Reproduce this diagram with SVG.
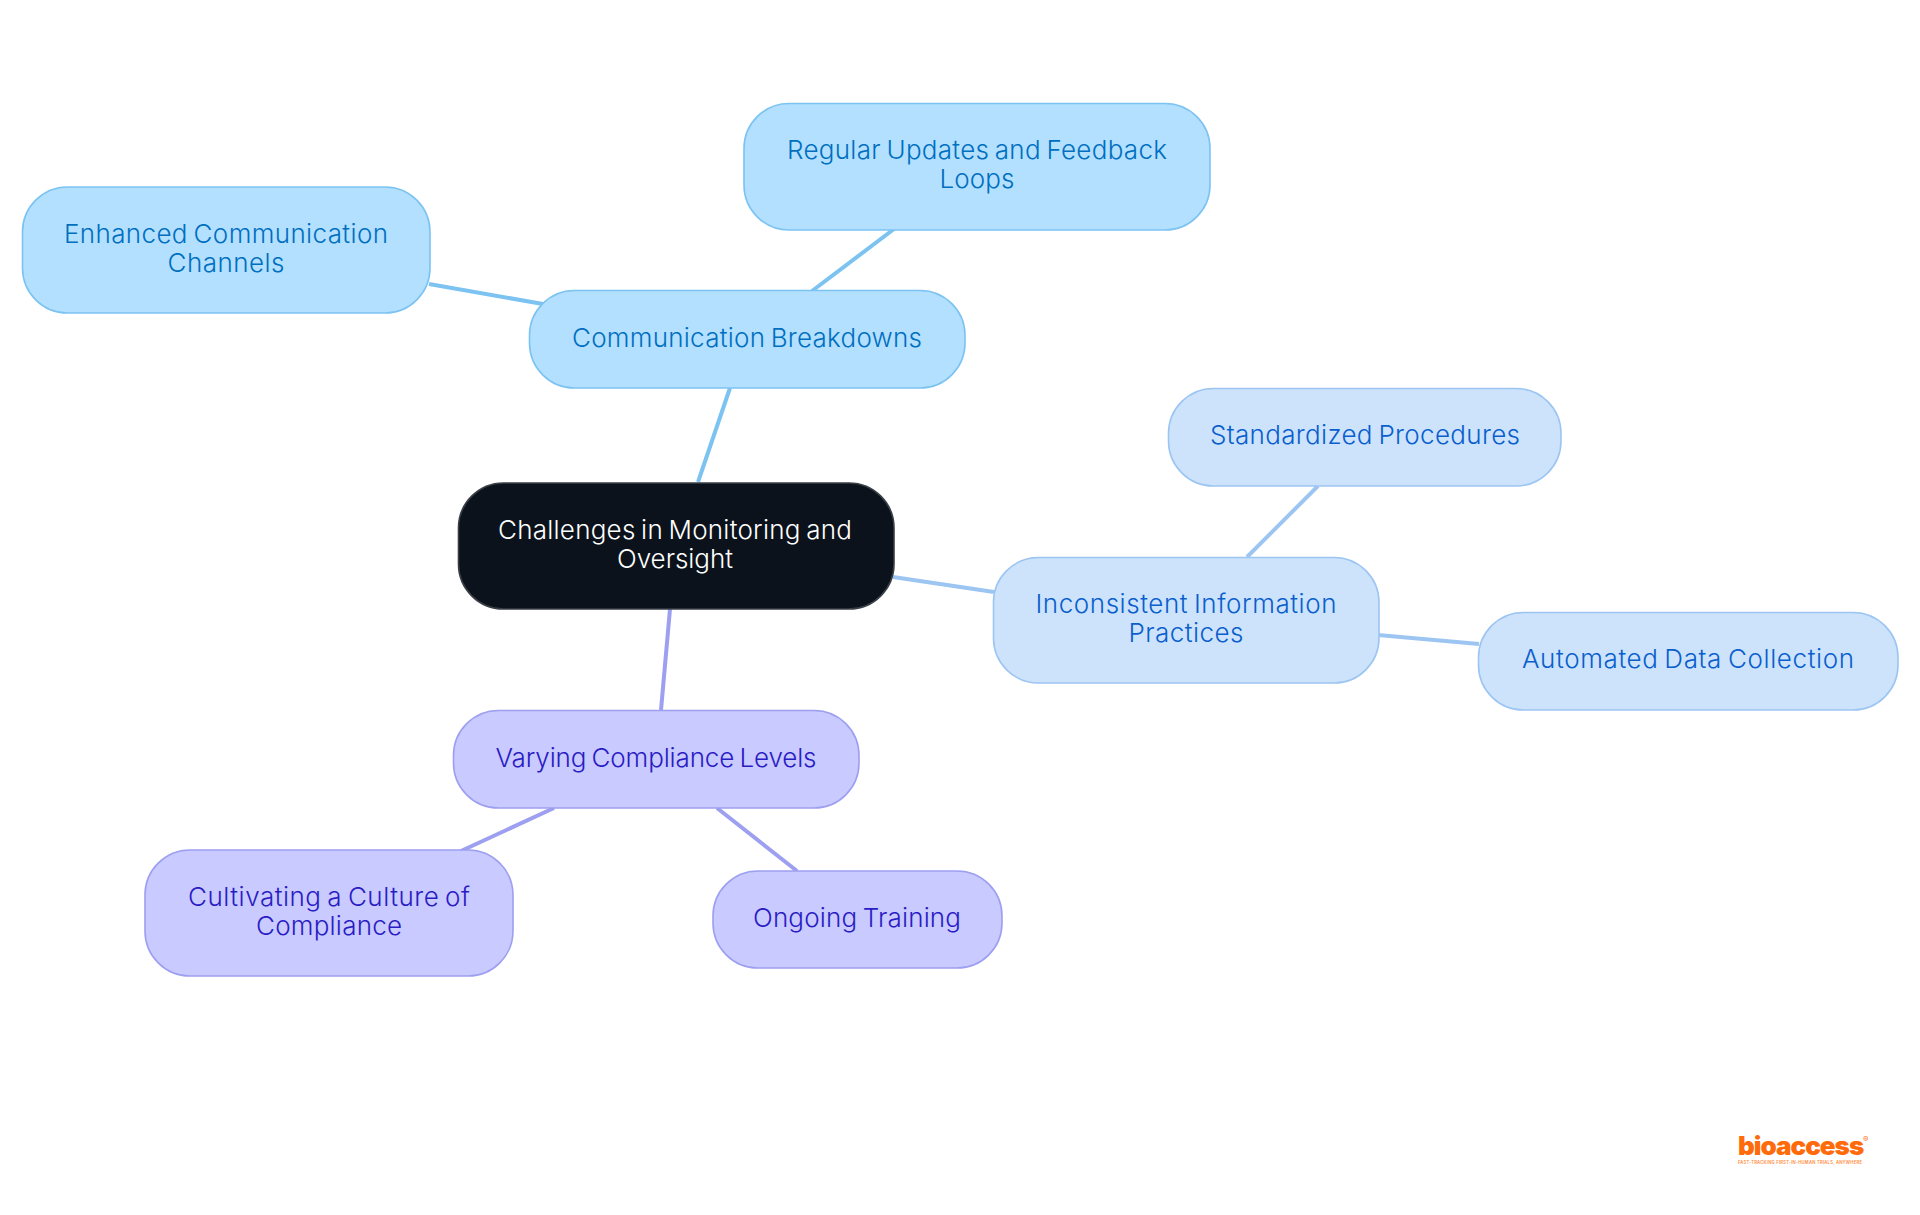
<svg xmlns="http://www.w3.org/2000/svg" width="1920" height="1215" viewBox="0 0 1920 1215">
<style>
text{font-family:"Inter","Noto Sans","Liberation Sans",sans-serif;font-size:26px;font-weight:350;text-anchor:middle;word-spacing:-2px}
rect{stroke-width:1.6}
.a{fill:#b3e0ff;stroke:#7cc3f2}.at{fill:#006fc0}
.b{fill:#cde3fc;stroke:#9cc5f2}.bt{fill:#0a5fcc}
.c{fill:#c9caff;stroke:#9d9ff0}.ct{fill:#2a1cc4}
.l{fill:none;stroke-width:4}
.logo{font-size:26px;font-weight:900;word-spacing:0;letter-spacing:-1px;text-anchor:start;fill:#ff6b0a}
.reg{font-size:8px;font-weight:400;word-spacing:0;text-anchor:start;fill:#ff6b0a}
.tag{font-size:4.2px;font-weight:600;word-spacing:0;fill:#ff8a3c}
</style>
<rect width="1920" height="1215" fill="#fff" style="stroke:none"/>
<g id="connectors" class="l">
<path stroke="#7cc3f2" d="M698 482L730 388M812 291L894 229M543 304L429 284"/>
<path stroke="#9cc5f2" d="M893 577L994 592M1247 557L1318 486M1378 635L1479 644"/>
<path stroke="#9d9ff0" d="M670 609L661 710M554 808L461 851M717 808L797 871"/>
</g>
<g id="central"><rect x="458.5" y="483" width="435.5" height="126" rx="45" fill="#0b121b" stroke="#3a3f46"/><text fill="#fff" x="675" y="539" textLength="354">Challenges in Monitoring and</text><text fill="#fff" x="675" y="568" textLength="116">Oversight</text></g>
<g id="comm"><rect class="a" x="529.5" y="290.5" width="435.5" height="97.5" rx="45"/><text class="at" x="747" y="347" textLength="350">Communication Breakdowns</text></g>
<g id="regular"><rect class="a" x="744" y="103.5" width="466" height="126.5" rx="45"/><text class="at" x="977" y="159" textLength="380">Regular Updates and Feedback</text><text class="at" x="977" y="188" textLength="75">Loops</text></g>
<g id="enhanced"><rect class="a" x="22.5" y="187" width="407.5" height="126" rx="45"/><text class="at" x="226" y="243" textLength="324">Enhanced Communication</text><text class="at" x="226" y="272" textLength="117">Channels</text></g>
<g id="inconsistent"><rect class="b" x="993.5" y="557.5" width="385.5" height="125.5" rx="45"/><text class="bt" x="1186" y="613" textLength="301">Inconsistent Information</text><text class="bt" x="1186" y="642" textLength="115">Practices</text></g>
<g id="standardized"><rect class="b" x="1168.5" y="388.5" width="392.5" height="97.5" rx="45"/><text class="bt" x="1365" y="444" textLength="310">Standardized Procedures</text></g>
<g id="automated"><rect class="b" x="1478.5" y="612.5" width="419.5" height="97.5" rx="45"/><text class="bt" x="1688" y="668" textLength="332">Automated Data Collection</text></g>
<g id="varying"><rect class="c" x="453.5" y="710.5" width="405.5" height="97.5" rx="45"/><text class="ct" x="656" y="767" textLength="321">Varying Compliance Levels</text></g>
<g id="cultivating"><rect class="c" x="145" y="850" width="368" height="126" rx="45"/><text class="ct" x="329" y="906" textLength="282">Cultivating a Culture of</text><text class="ct" x="329" y="935" textLength="146">Compliance</text></g>
<g id="ongoing"><rect class="c" x="713" y="871" width="289" height="97" rx="45"/><text class="ct" x="857" y="927" textLength="208">Ongoing Training</text></g>
<g id="logo"><text class="logo" x="1738" y="1155">bioaccess</text><text class="reg" x="1863" y="1142">®</text><text class="tag" x="1800" y="1164" textLength="124">FAST-TRACKING FIRST-IN-HUMAN TRIALS, ANYWHERE</text></g>
</svg>
